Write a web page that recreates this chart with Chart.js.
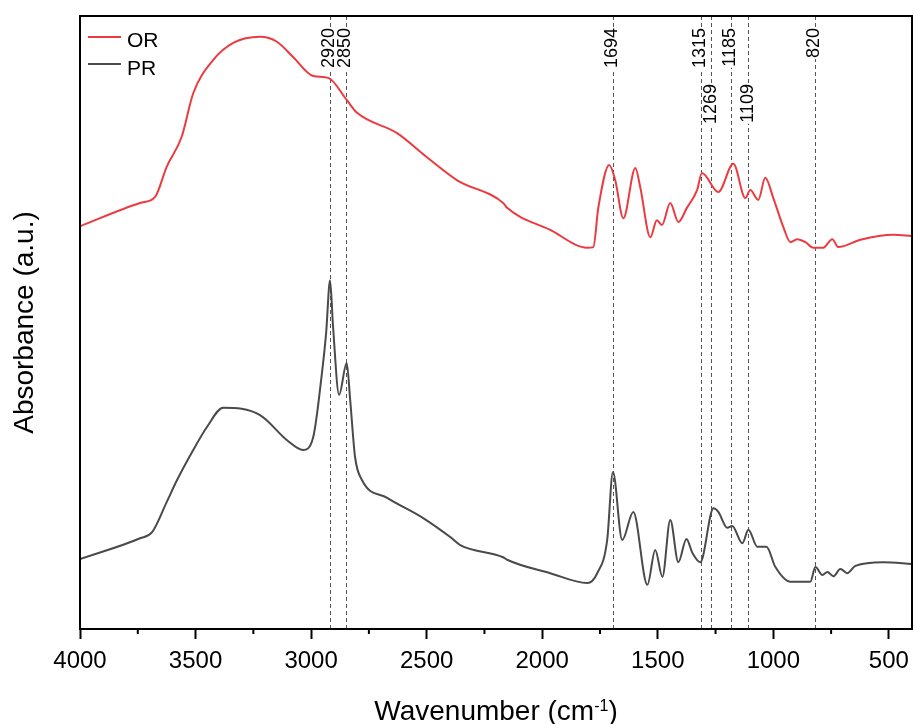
<!DOCTYPE html>
<html><head><meta charset="utf-8">
<script src="https://cdn.jsdelivr.net/npm/chart.js@4.4.1/dist/chart.umd.min.js"></script>
<style>html,body{margin:0;padding:0;background:#fff;}#wrap{width:914px;height:724px;}</style>
</head><body><div id="wrap"><canvas id="c" width="914" height="724"></canvas></div>
<script>
// ---- data ----
const seriesNames = ['OR', 'PR'];
const orWavenumber = [4000,3740,3675,3625,3560,3510,3424,3337,3221,3148,3078,2991,2926,2846,2801,2628,2500,2368,2169,2152,1965,1805,1779,1757,1710,1684,1649,1597,1576,1532,1504,1482,1446,1411,1374,1330,1309,1238,1173,1121,1100,1065,1035,1000,957,926,896,861,827,784,745,719,623,481,400];
const orAbsorbance = [65.7,69.5,70.5,75.4,80.3,87.4,92.8,95.6,96.6,95.8,93.3,90.2,89.9,86.3,84.2,80.9,77.0,73.2,69.5,68.7,65.1,62.2,62.3,68.8,75.7,73.2,67.0,75.2,72.1,63.9,66.7,65.9,69.5,66.4,68.7,71.6,74.4,71.3,75.9,70.3,71.6,70.0,73.6,70.3,65.6,63.1,63.6,63.1,62.2,62.2,63.6,62.3,63.5,64.3,64.1];
const prWavenumber = [4000,3740,3688,3625,3580,3510,3450,3380,3221,3104,3035,2991,2953,2935,2918,2905,2879,2846,2831,2810,2780,2671,2515,2398,2355,2169,2152,1965,1805,1762,1719,1694,1654,1606,1545,1511,1480,1446,1411,1376,1350,1316,1259,1238,1199,1178,1134,1108,1069,1030,991,926,840,818,788,766,740,710,680,645,524,400];
const prAbsorbance = [11.4,14.8,15.8,20.7,24.3,29.2,33.0,36.1,34.9,30.8,29.2,31.3,41.8,48.3,56.9,49.3,38.2,43.4,37.4,28.1,24.3,21.4,18.1,15.0,13.7,11.7,11.3,9.1,7.5,9.1,14.5,25.6,14.5,19.1,7.2,12.9,8.5,17.8,10.9,14.7,12.4,10.9,19.7,19.1,16.5,16.8,14.0,16.2,13.4,13.4,10.1,7.7,7.7,10.1,8.8,9.3,8.6,9.8,9.1,10.3,10.9,10.6];
const xTickValues = [4000,3500,3000,2500,2000,1500,1000,500];
const xMinorTickValues = [3750,3250,2750,2250,1750,1250,750];
const peakWavenumbers = [2920,2850,1694,1315,1269,1185,1109,820];
const peakLabels = ['2920','2850','1694','1315','1269','1185','1109','820'];

// ---- styles ----
const FONT = "Arial, 'Liberation Sans', sans-serif";
const seriesColors = ['#EC3B40', '#4A4A4A'];
const loweredPeaks = [1269, 1109];

const decoPlugin = {
  id: 'deco',
  beforeDatasetsDraw(chart) {
    const {ctx, chartArea: a, scales: {x}} = chart;
    ctx.save();
    ctx.strokeStyle = '#555';
    ctx.lineWidth = 1;
    ctx.setLineDash([4, 3]);
    peakWavenumbers.forEach(w => {
      const px = Math.round(x.getPixelForValue(w)) + 0.5;
      ctx.beginPath();
      ctx.moveTo(px, a.top);
      ctx.lineTo(px, a.bottom);
      ctx.stroke();
    });
    ctx.restore();
  },
  afterDatasetsDraw(chart) {
    const {ctx, scales: {x}} = chart;
    ctx.save();
    ctx.font = '18px ' + FONT;
    peakWavenumbers.forEach((w, i) => {
      const px = x.getPixelForValue(w);
      const top = loweredPeaks.includes(w) ? 84 : 28;
      const tw = ctx.measureText(peakLabels[i]).width;
      ctx.fillStyle = '#fff';
      ctx.fillRect(px - 6, top - 1, 12, tw + 2);
      ctx.save();
      ctx.translate(px - 0.5, top);
      ctx.rotate(-Math.PI / 2);
      ctx.fillStyle = '#000';
      ctx.textAlign = 'right';
      ctx.textBaseline = 'middle';
      ctx.fillText(peakLabels[i], 0, 0);
      ctx.restore();
    });
    ctx.restore();
  },
  afterDraw(chart) {
    const {ctx, chartArea: a, scales: {x}} = chart;
    ctx.save();
    // frame
    ctx.strokeStyle = '#000';
    ctx.lineWidth = 2;
    ctx.strokeRect(a.left, a.top, a.right - a.left, a.bottom - a.top);
    // minor ticks
    xMinorTickValues.forEach(v => {
      const px = x.getPixelForValue(v);
      ctx.beginPath();
      ctx.moveTo(px, a.bottom);
      ctx.lineTo(px, a.bottom + 5);
      ctx.stroke();
    });
    // legend
    const legendY = [37, 64];
    const legendBase = [47, 75];
    ctx.font = '21px ' + FONT;
    ctx.textBaseline = 'alphabetic';
    ctx.textAlign = 'left';
    seriesNames.forEach((n, i) => {
      ctx.strokeStyle = seriesColors[i];
      ctx.lineWidth = 2;
      ctx.beginPath();
      ctx.moveTo(a.left + 8, legendY[i]);
      ctx.lineTo(a.left + 41, legendY[i]);
      ctx.stroke();
      ctx.fillStyle = '#000';
      ctx.fillText(n, a.left + 47, legendBase[i]);
    });
    // x title with superscript
    const main = 'Wavenumber (cm', sup = '-1', close = ')';
    ctx.font = '28px ' + FONT;
    const w1 = ctx.measureText(main).width;
    const w3 = ctx.measureText(close).width;
    ctx.font = '16px ' + FONT;
    const w2 = ctx.measureText(sup).width;
    const total = w1 + w2 + w3;
    const cx = (a.left + a.right) / 2;
    let sx = cx - total / 2;
    const base = 720;
    ctx.fillStyle = '#000';
    ctx.font = '28px ' + FONT;
    ctx.fillText(main, sx, base);
    ctx.font = '16px ' + FONT;
    ctx.fillText(sup, sx + w1, base - 9);
    ctx.font = '28px ' + FONT;
    ctx.fillText(close, sx + w1 + w2, base);
    ctx.restore();
  }
};

new Chart(document.getElementById('c'), {
  type: 'line',
  data: {
    datasets: [
      {
        label: seriesNames[0],
        data: orWavenumber.map((w, i) => ({x: w, y: orAbsorbance[i]})),
        borderColor: seriesColors[0], borderWidth: 2, pointRadius: 0,
        cubicInterpolationMode: 'monotone', fill: false
      },
      {
        label: seriesNames[1],
        data: prWavenumber.map((w, i) => ({x: w, y: prAbsorbance[i]})),
        borderColor: seriesColors[1], borderWidth: 2, pointRadius: 0,
        cubicInterpolationMode: 'monotone', fill: false
      }
    ]
  },
  options: {
    responsive: false,
    animation: false,
    devicePixelRatio: 1,
    layout: {padding: {top: 16, right: 2, left: 0, bottom: 0}},
    plugins: {legend: {display: false}, tooltip: {enabled: false}},
    scales: {
      x: {
        type: 'linear', min: 400, max: 4000, reverse: true,
        afterBuildTicks: s => { s.ticks = xTickValues.map(v => ({value: v})); },
        afterFit: s => { s.height = 95; s.paddingLeft = 0; s.paddingRight = 0; },
        ticks: {font: {family: FONT, size: 24}, color: '#000', padding: 8, maxRotation: 0, autoSkip: false, callback: v => String(v)},
        grid: {display: true, drawOnChartArea: false, drawTicks: true, tickLength: 10, tickWidth: 2, tickColor: '#000'},
        border: {display: false}
      },
      y: {
        min: 0, max: 100,
        afterFit: s => { s.width = 80; },
        ticks: {display: false},
        grid: {display: false},
        border: {display: false},
        title: {display: true, text: 'Absorbance (a.u.)', font: {family: FONT, size: 28}, color: '#000', padding: {top: 8, bottom: 0}}
      }
    }
  },
  plugins: [decoPlugin]
});
</script>
</body></html>
